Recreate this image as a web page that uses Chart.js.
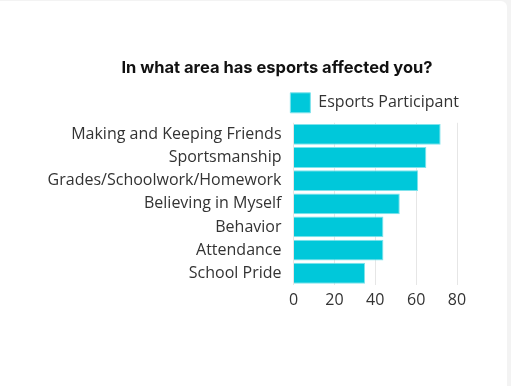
<!DOCTYPE html>
<html>
<head>
<meta charset="utf-8">
<script src="https://cdn.jsdelivr.net/npm/chart.js@4"></script>
<style>
  html, body { margin: 0; padding: 0; background: #f3f3f3; }
  #card { position: absolute; left: 0; top: 1px; width: 507px; height: 385px; background: #fff; border-top-right-radius: 6px; }
</style>
</head>
<body>
<div id="card"><canvas id="esportsChart" width="507" height="385"></canvas></div>
<script>
const categories = ["Making and Keeping Friends", "Sportsmanship", "Grades/Schoolwork/Homework", "Believing in Myself", "Behavior", "Attendance", "School Pride"];
const participantValues = [72, 65, 61, 52, 44, 44, 35];
const xTicks = [0, 20, 40, 60, 80];

const barColor = "#00c8da";
const labelFont = "'Open Sans', sans-serif";

// long category labels draw left of the y axis box, legend sits a bit further right
const layoutTweaks = {
    id: "layoutTweaks",
    afterLayout: function (chart) {
        chart.scales.y.left = 0;
        chart.legend.left += 12;
        chart.legend.right += 12;
    }
};

new Chart("esportsChart", {
    type: "bar",
    data: {
        labels: categories,
        datasets: [{
            label: "Esports Participant",
            data: participantValues,
            backgroundColor: barColor,
            borderColor: "#7fe3ec",
            borderWidth: 1,
            barPercentage: 0.9,
            categoryPercentage: 1
        }]
    },
    plugins: [layoutTweaks],
    options: {
        indexAxis: "y",
        responsive: false,
        animation: false,
        layout: { padding: { left: 97, right: 50, top: 0, bottom: 70 } },
        plugins: {
            title: {
                display: true,
                text: "In what area has esports affected you?",
                color: "#111",
                font: { family: "Inter, sans-serif", size: 16.5, weight: "bold" },
                padding: { top: 57, bottom: 5 }
            },
            legend: {
                display: true,
                align: "end",
                labels: {
                    boxWidth: 20,
                    boxHeight: 20,
                    color: "#333",
                    font: { family: labelFont, size: 16 }
                }
            },
            tooltip: { enabled: false }
        },
        scales: {
            x: {
                min: 0,
                max: 80,
                afterBuildTicks: function (axis) {
                    axis.ticks = xTicks.map(v => ({ value: v }));
                },
                grid: { color: "#e6e6e6", drawTicks: false },
                border: { display: false },
                ticks: { color: "#333", padding: 6, font: { family: labelFont, size: 16 } }
            },
            y: {
                afterFit: function (axis) { axis.width = 196.5; },
                grid: { display: false, drawTicks: false },
                border: { display: false },
                ticks: { color: "#333", padding: 12, font: { family: labelFont, size: 16 } }
            }
        }
    }
});
</script>
</body>
</html>
